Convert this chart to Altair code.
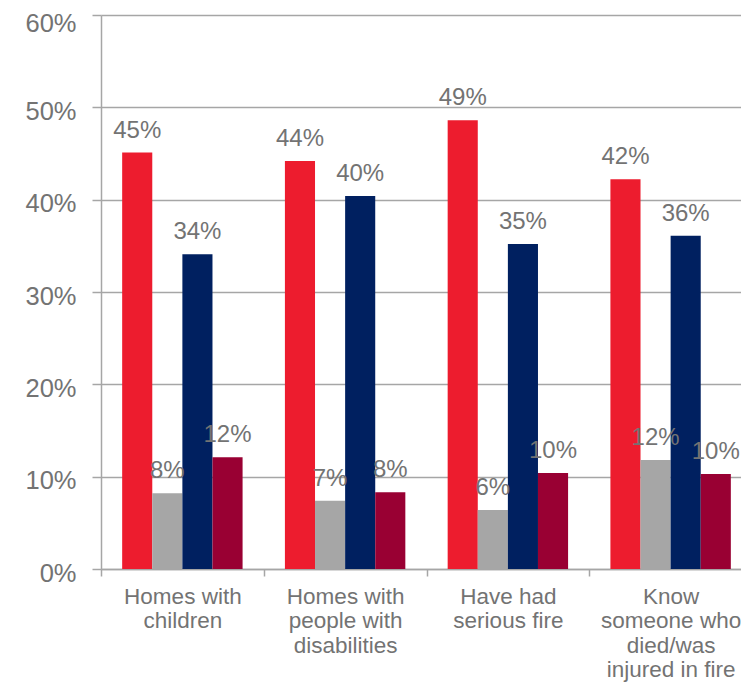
import altair as alt
import pandas as pd

categories = [
    "Homes with|children",
    "Homes with|people with|disabilities",
    "Have had|serious fire",
    "Know|someone who|died/was|injured in fire",
]
series = ["Series 1", "Series 2", "Series 3", "Series 4"]
colors = ["#ED1C2E", "#A6A6A6", "#002060", "#990033"]

series_1 = [0.451, 0.442, 0.486, 0.422]
series_2 = [0.082, 0.074, 0.064, 0.118]
series_3 = [0.341, 0.404, 0.352, 0.361]
series_4 = [0.121, 0.083, 0.104, 0.103]

y_ticks = [0, 0.1, 0.2, 0.3, 0.4, 0.5, 0.6]

rows = []
for s, vals in zip(series, [series_1, series_2, series_3, series_4]):
    for c, v in zip(categories, vals):
        rows.append({"category": c, "series": s, "value": v})
df = pd.DataFrame(rows)

GRAY = "#a6a6a6"
TEXT = "#737373"
FONT = "Liberation Sans"

x_enc = alt.X(
    "category:N",
    sort=categories,
    scale=alt.Scale(range=[0, 651], paddingInner=0, paddingOuter=0),
    axis=alt.Axis(
        title=None,
        labelAngle=0,
        labelExpr="split(datum.label, '|')",
        tickBand="extent",
        tickSize=7,
        tickColor=GRAY,
        tickWidth=1.5,
        domainColor=GRAY,
        domainWidth=1.5,
        labelFontSize=22.5,
        labelLineHeight=24.5,
        labelColor=TEXT,
        labelFont=FONT,
        labelPadding=9,
        grid=False,
    ),
)
xo_enc = alt.XOffset(
    "series:N", sort=series, scale=alt.Scale(paddingOuter=0.703, paddingInner=0)
)
y_enc = alt.Y(
    "value:Q",
    scale=alt.Scale(domain=[0, 0.6], nice=False),
    axis=alt.Axis(
        values=y_ticks,
        format=".0%",
        title=None,
        tickSize=9,
        tickColor=GRAY,
        tickWidth=1.5,
        domainColor=GRAY,
        domainWidth=1.5,
        gridColor=GRAY,
        gridWidth=1.5,
        labelFontSize=25.5,
        labelColor=TEXT,
        labelFont=FONT,
        labelPadding=16,
        labelOffset={"condition": {"test": "datum.value >= 0.59", "value": 8}, "value": 4},
    ),
)

bars = alt.Chart(df).mark_bar().encode(
    x=x_enc,
    xOffset=xo_enc,
    y=y_enc,
    color=alt.Color("series:N", sort=series, scale=alt.Scale(domain=series, range=colors), legend=None),
)

labels = alt.Chart(df).mark_text(
    dy=-15, baseline="alphabetic", align="center", fontSize=24, color=TEXT, font=FONT
).encode(
    x=x_enc,
    xOffset=xo_enc,
    y=y_enc,
    text=alt.Text("value:Q", format=".0%"),
)

chart = (
    alt.layer(bars, labels)
    .properties(
        width=640,
        height=554,
        padding={"left": 93, "top": 7, "right": 0, "bottom": 114},
        autosize=alt.AutoSizeParams(type="none"),
    )
    .configure_view(stroke=None)
)

chart.save("out.html", embed_options={"renderer": "svg", "actions": False})
